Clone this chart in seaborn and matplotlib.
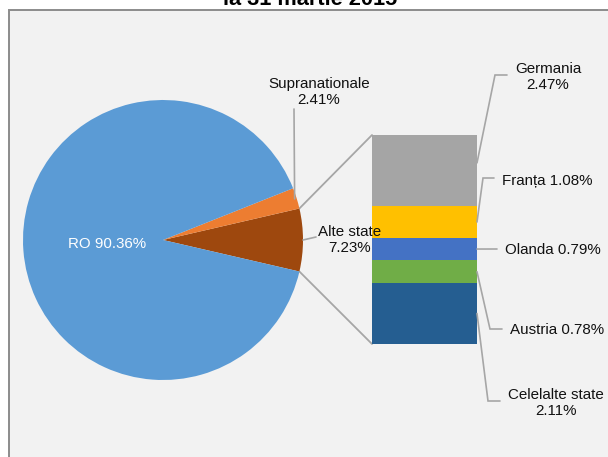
import matplotlib
matplotlib.use("Agg")
import numpy as np
import matplotlib.pyplot as plt
import seaborn as sns
from matplotlib.patches import Rectangle, ConnectionPatch

# Structura pe rezidență a deținătorilor de titluri de stat
title = "la 31 martie 2015"

pie_labels = ["Alte state", "Supranationale", "RO"]
pie_values = [7.23, 2.41, 90.36]
pie_colors = ["#9E480E", "#ED7D31", "#5B9BD5"]

# detaliere "Alte state", de jos în sus
bar_labels = ["Celelalte state", "Austria", "Olanda", "Franța", "Germania"]
bar_values = [2.11, 0.78, 0.79, 1.08, 2.47]
bar_colors = ["#255E91", "#70AD47", "#4472C4", "#FFC000", "#A5A5A5"]

sns.set_theme(style="white")
plt.rcParams["font.family"] = ["Liberation Sans", "DejaVu Sans"]

W, H = 608, 457
fig = plt.figure(figsize=(W / 100, H / 100), dpi=100)
fig.patch.set_facecolor("white")


def Y(y):
    return H - y


# chart area frame, drawn beneath every axes
frame = Rectangle((8.5 / W, -0.1), 2.0, Y(9.5) / H + 0.1,
                  transform=fig.transFigure, facecolor="#f2f2f2",
                  edgecolor="#8c8c8c", lw=1.4, zorder=-5)
fig.add_artist(frame)

# full-figure axes in pixel units (y measured from the top), kept above the bar
ax = fig.add_axes([0, 0, 1, 1])
ax.set_zorder(2)
ax.patch.set_visible(False)

FS = 10.9
TXT = "#111111"
LINE = "#a6a6a6"

# pie
cx, cy, R = 163, Y(240), 140
half = pie_values[0] * 3.6 / 2
wedges, _ = ax.pie(pie_values, colors=pie_colors, startangle=-half,
                   counterclock=True, center=(cx, cy), radius=R, frame=True,
                   wedgeprops=dict(linewidth=0))
ax.set_xlim(0, W)
ax.set_ylim(0, H)
ax.set_aspect("equal")
ax.axis("off")


def pt(angle, r):
    a = np.deg2rad(angle)
    return cx + r * np.cos(a), cy + r * np.sin(a)


# RO label inside the slice
w = wedges[2]
mid = (w.theta1 + w.theta2) / 2
x, y = pt(mid, 0.4 * R)
ax.text(x, y, f"{pie_labels[2]} {pie_values[2]:.2f}%", color="white",
        fontsize=FS, ha="center", va="center")

# Supranationale label
w = wedges[1]
mid = (w.theta1 + w.theta2) / 2
ex, ey = pt(mid, R * 0.985)
ax.plot([294, ex], [Y(109), ey], color=LINE, lw=1.2)
ax.text(319, Y(92), f"{pie_labels[1]}\n{pie_values[1]:.2f}%", color=TXT,
        fontsize=FS, ha="center", va="center", linespacing=1.2)

# Alte state label
ex, ey = pt(0, R)
ax.plot([ex, 316], [ey, Y(237)], color=LINE, lw=1.2)
ax.text(350, Y(240), f"{pie_labels[0]}\n{pie_values[0]:.2f}%", color=TXT,
        fontsize=FS, ha="center", va="center", linespacing=1.2)

# stacked bar
bx0, by0, bx1, by1 = 372, 135, 477, 344
bax = fig.add_axes([bx0 / W, Y(by1) / H, (bx1 - bx0) / W, (by1 - by0) / H])
bax.set_zorder(1)
bottoms = np.concatenate([[0], np.cumsum(bar_values)[:-1]])
bax.bar(0, bar_values, bottom=bottoms, width=1.0, color=bar_colors, linewidth=0)
bax.set_xlim(-0.5, 0.5)
bax.set_ylim(0, sum(bar_values))
bax.axis("off")

# connectors from the pie slice to the bar
for ang, (fx, fy) in [(half, (0, 1)), (-half, (0, 0))]:
    px, py = pt(ang, R)
    con = ConnectionPatch(xyA=(px, py), coordsA=ax.transData,
                          xyB=(fx, fy), coordsB=bax.transAxes,
                          color=LINE, lw=1.3)
    fig.add_artist(con)

to_ax = ax.transData.inverted()

# bar labels with leader lines
anchor_frac = [0.5, 0.5, 0.5, 0.5, 0.61]
elbows = [(488, 401), (490, 329), (497, 249), (483, 178), (495, 75)]
ends = [500, 502, 497, 494, 507]
texts = [
    dict(x=556, y=403, ha="center", s=f"{bar_labels[0]}\n{bar_values[0]:.2f}%"),
    dict(x=510, y=330, ha="left", s=f"{bar_labels[1]} {bar_values[1]:.2f}%"),
    dict(x=505, y=250, ha="left", s=f"{bar_labels[2]} {bar_values[2]:.2f}%"),
    dict(x=502, y=181, ha="left", s=f"{bar_labels[3]} {bar_values[3]:.2f}%"),
    dict(x=548, y=77, ha="center", s=f"{bar_labels[4]}\n{bar_values[4]:.2f}%"),
]
for i in range(len(bar_values)):
    sy = bottoms[i] + anchor_frac[i] * bar_values[i]
    sx, sy = to_ax.transform(bax.transData.transform((0.5, sy)))
    exx, eyy = elbows[i]
    ax.plot([sx, exx, ends[i]], [sy, Y(eyy), Y(eyy)], color=LINE, lw=1.2,
            solid_joinstyle="miter")
    t = texts[i]
    ax.text(t["x"], Y(t["y"]), t["s"], color=TXT, fontsize=FS, ha=t["ha"],
            va="center", linespacing=1.2)

# chart title, partly above the visible area
ax.text(310, Y(5), title, color="black", fontsize=15.7, fontweight="bold",
        ha="center", va="baseline")

fig.savefig("out.png", dpi=100, facecolor="white")
